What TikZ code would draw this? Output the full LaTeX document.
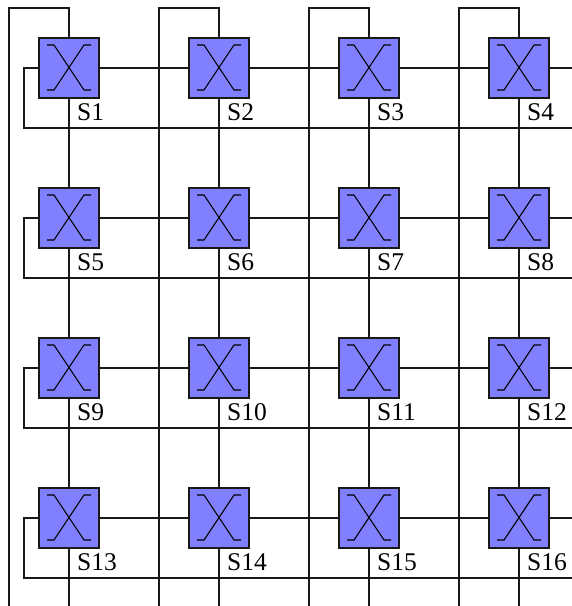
\documentclass[tikz,border=0pt]{standalone}
\usepackage{fontspec}
\setmainfont{Liberation Serif}
\tikzset{
  wire/.style={draw=black!90,line width=1.2pt},
  switchbox/.style={draw=black!90,line width=1.3pt,fill=blue!50,rectangle,minimum size=60pt,inner sep=0pt,outer sep=0pt},
  crossing/.style={draw=black,line width=1.1pt},
  swlabel/.style={anchor=base west,inner sep=0pt,outer sep=0pt,font=\fontsize{25.5}{27}\selectfont}
}
\begin{document}
\begin{tikzpicture}[x=1pt,y=-1pt]
\useasboundingbox (0,0) rectangle (572,606);
\fill[white] (0,0) rectangle (572,606);
% switches
\foreach \r in {0,1,2,3}{
  \foreach \c in {0,1,2,3}{
    \pgfmathtruncatemacro{\n}{4*\r+\c+1}
    \pgfmathsetmacro{\cx}{69+150*\c}
    \pgfmathsetmacro{\cy}{68+150*\r}
    \node[switchbox] (s\n) at (\cx,\cy) {};
    \node[swlabel] (lab\n) at (\cx+8.2,\cy+52) {S\n};
    \draw[crossing] ([shift={(-22,-23)}]s\n.center) -- ++(7,0) -- ([shift={(15,22)}]s\n.center) -- ++(7,0);
    \draw[crossing] ([shift={(22,-23)}]s\n.center) -- ++(-7,0) -- ([shift={(-15,22)}]s\n.center) -- ++(-7,0);
  }
}
% top loops and long verticals
\foreach \c in {1,2,3,4}{
  \pgfmathsetmacro{\lx}{9+150*(\c-1)}
  \coordinate (ltop\c) at (\lx,8);
  \coordinate (lbot\c) at (\lx,606);
  \draw[wire] (s\c.north) |- (ltop\c) -- (lbot\c);
}
% verticals between switches
\foreach \a/\b in {1/5,2/6,3/7,4/8,5/9,6/10,7/11,8/12,9/13,10/14,11/15,12/16}{
  \draw[wire] (s\a.south) -- (s\b.north);
}
\foreach \a in {13,14,15,16}{
  \pgfmathsetmacro{\bx}{69+150*(\a-13)}
  \coordinate (bot\a) at (\bx,606);
  \draw[wire] (s\a.south) -- (bot\a);
}
% horizontals
\foreach \a/\b in {1/2,2/3,3/4,5/6,6/7,7/8,9/10,10/11,11/12,13/14,14/15,15/16}{
  \draw[wire] (s\a.east) -- (s\b.west);
}
% row return loops
\foreach \r/\first/\last in {0/1/4,1/5/8,2/9/12,3/13/16}{
  \pgfmathsetmacro{\ry}{68+150*\r}
  \pgfmathsetmacro{\rb}{128+150*\r}
  \coordinate (out\last) at (572,\ry);
  \coordinate (lc\first) at (24,\ry);
  \coordinate (lb\first) at (24,\rb);
  \coordinate (re\first) at (572,\rb);
  \draw[wire] (s\last.east) -- (out\last);
  \draw[wire] (s\first.west) -- (lc\first) -- (lb\first) -- (re\first);
}
\end{tikzpicture}
\end{document}
